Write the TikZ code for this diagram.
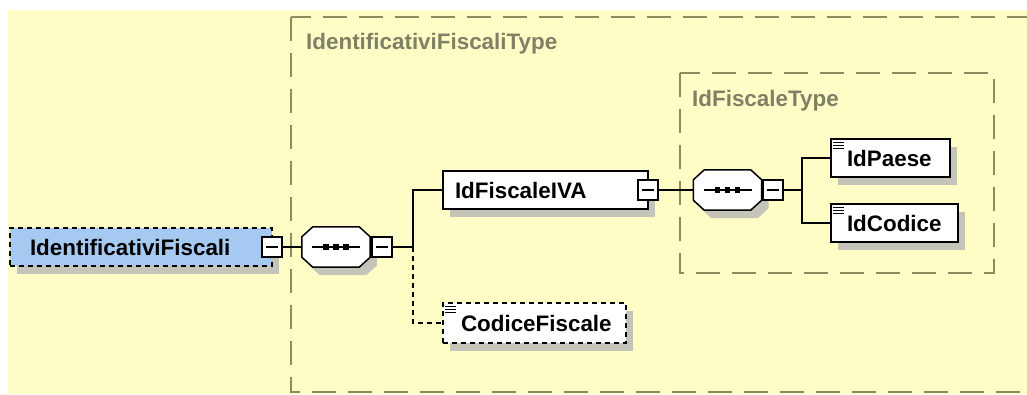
\documentclass[tikz,border=0pt]{standalone}
\usepackage{fontspec}
\setmainfont{Liberation Sans}
\usetikzlibrary{shadows}

\definecolor{paper}{RGB}{255,253,198}
\definecolor{rootblue}{RGB}{166,201,242}
\definecolor{shadowc}{RGB}{196,196,184}
\definecolor{typegray}{RGB}{128,128,102}
\definecolor{frameolive}{RGB}{140,140,96}

\newcommand{\elemfont}{\bfseries\fontsize{22.4}{24}\selectfont}

% octagonal sequence compositor outline around a rectangle node, with offset
\newcommand{\octpath}[3]{%
  ([xshift=#2+11pt,yshift=#3]#1.north west) --
  ([xshift=#2-11pt,yshift=#3]#1.north east) --
  ([xshift=#2,yshift=#3-10pt]#1.north east) --
  ([xshift=#2,yshift=#3+10pt]#1.south east) --
  ([xshift=#2-11pt,yshift=#3]#1.south east) --
  ([xshift=#2+11pt,yshift=#3]#1.south west) --
  ([xshift=#2,yshift=#3+10pt]#1.south west) --
  ([xshift=#2,yshift=#3-10pt]#1.north west) -- cycle}

% compositor: octagon, its shadow and the dotted line inside
\newcommand{\seqglyph}[1]{%
  \fill[shadowc] \octpath{#1}{7pt}{-8pt};
  \draw[line width=1.5pt, fill=white] \octpath{#1}{0pt}{0pt};
  \draw[line width=1.3pt] ([xshift=-24pt]#1.center) -- ([xshift=24pt]#1.center);
  \foreach \dx in {-10,0,10}
    \fill ([xshift=\dx pt]#1.center) +(-2.6,-2.6) rectangle +(2.6,2.6);
}

% simple-type marker in the corner of a leaf element
\newcommand{\leafmark}[1]{%
  \foreach \k in {0,3,6}
    \draw[line width=1.1pt] ([xshift=2.5pt,yshift=-4pt-\k pt]#1.north west) -- ++(11,0);
}

\begin{document}
\begin{tikzpicture}[x=1pt,y=-1pt,
  typeframe/.style={draw=frameolive, line width=1.8pt, dash pattern=on 24pt off 12pt},
  typelabel/.style={anchor=west, inner sep=0pt, text=typegray, font=\elemfont},
  elem/.style={draw=black, line width=1.5pt, fill=white, minimum height=38pt,
    inner ysep=0pt, align=left, font=\elemfont,
    drop shadow={shadow xshift=7pt, shadow yshift=-8pt, fill=shadowc, opacity=1}},
  optional/.style={dash pattern=on 5pt off 4pt},
  minus/.style={draw=black, fill=white, line width=1.3pt, minimum width=20pt,
    minimum height=20pt, inner sep=0pt,
    path picture={\draw[line width=1.3pt]
      ([xshift=4pt]path picture bounding box.west) --
      ([xshift=-4pt]path picture bounding box.east);}},
  seq/.style={minimum width=68pt, minimum height=40pt, inner sep=0pt},
  wire/.style={line width=1.5pt}]

\useasboundingbox (0,0) rectangle (1027,394);
\clip (0,0) rectangle (1027,394);
\fill[white] (0,0) rectangle (1027,394);
\fill[paper] (8,10) rectangle (1027,394);

% complex type frames
\draw[typeframe] (291,17) rectangle (1060,392);
\draw[typeframe] (680,73) rectangle (994,273);
\node[typelabel] (tOuter) at (306,44) {IdentificativiFiscaliType};
\node[typelabel] (tInner) at (692,101) {IdFiscaleType};

% elements
\node[elem, optional, fill=rootblue, minimum width=262pt, text width=222pt, inner xsep=20pt]
  (root) at (141,247) {IdentificativiFiscali};
\node[elem, minimum width=205pt, text width=181pt, inner xsep=12pt]
  (iva) at (545.5,190) {IdFiscaleIVA};
\node[elem, minimum width=119pt, text width=87pt, inner xsep=16pt]
  (paese) at (890.5,158) {IdPaese};
\node[elem, minimum width=127pt, text width=95pt, inner xsep=16pt]
  (codice) at (894.5,223) {IdCodice};
\node[elem, optional, minimum width=183pt, minimum height=40pt, text width=147pt, inner xsep=18pt]
  (cf) at (534.5,323) {CodiceFiscale};

\leafmark{paese}
\leafmark{codice}
\leafmark{cf}

% sequence compositors
\node[seq] (seq1) at (336,247) {};
\node[seq] (seq2) at (727.5,190) {};
\seqglyph{seq1}
\seqglyph{seq2}

% branch points
\coordinate (b1) at (413,247);
\coordinate (b2) at (802,190);

% collapse buttons
\node[minus] (m1) at (272,247) {};
\node[minus] (m2) at (382,247) {};
\node[minus] (m3) at (648,190) {};
\node[minus] (m4) at (773,190) {};

% connectors
\draw[wire] (m1.east) -- (seq1.west);
\draw[wire] (m2.east) -- (b1);
\draw[wire] (b1) |- (iva.west);
\draw[wire, optional] (b1) |- (cf.west);
\draw[wire] (m3.east) -- (seq2.west);
\draw[wire] (m4.east) -- (b2);
\draw[wire] (b2) |- (paese.west);
\draw[wire] (b2) |- (codice.west);
\end{tikzpicture}
\end{document}
